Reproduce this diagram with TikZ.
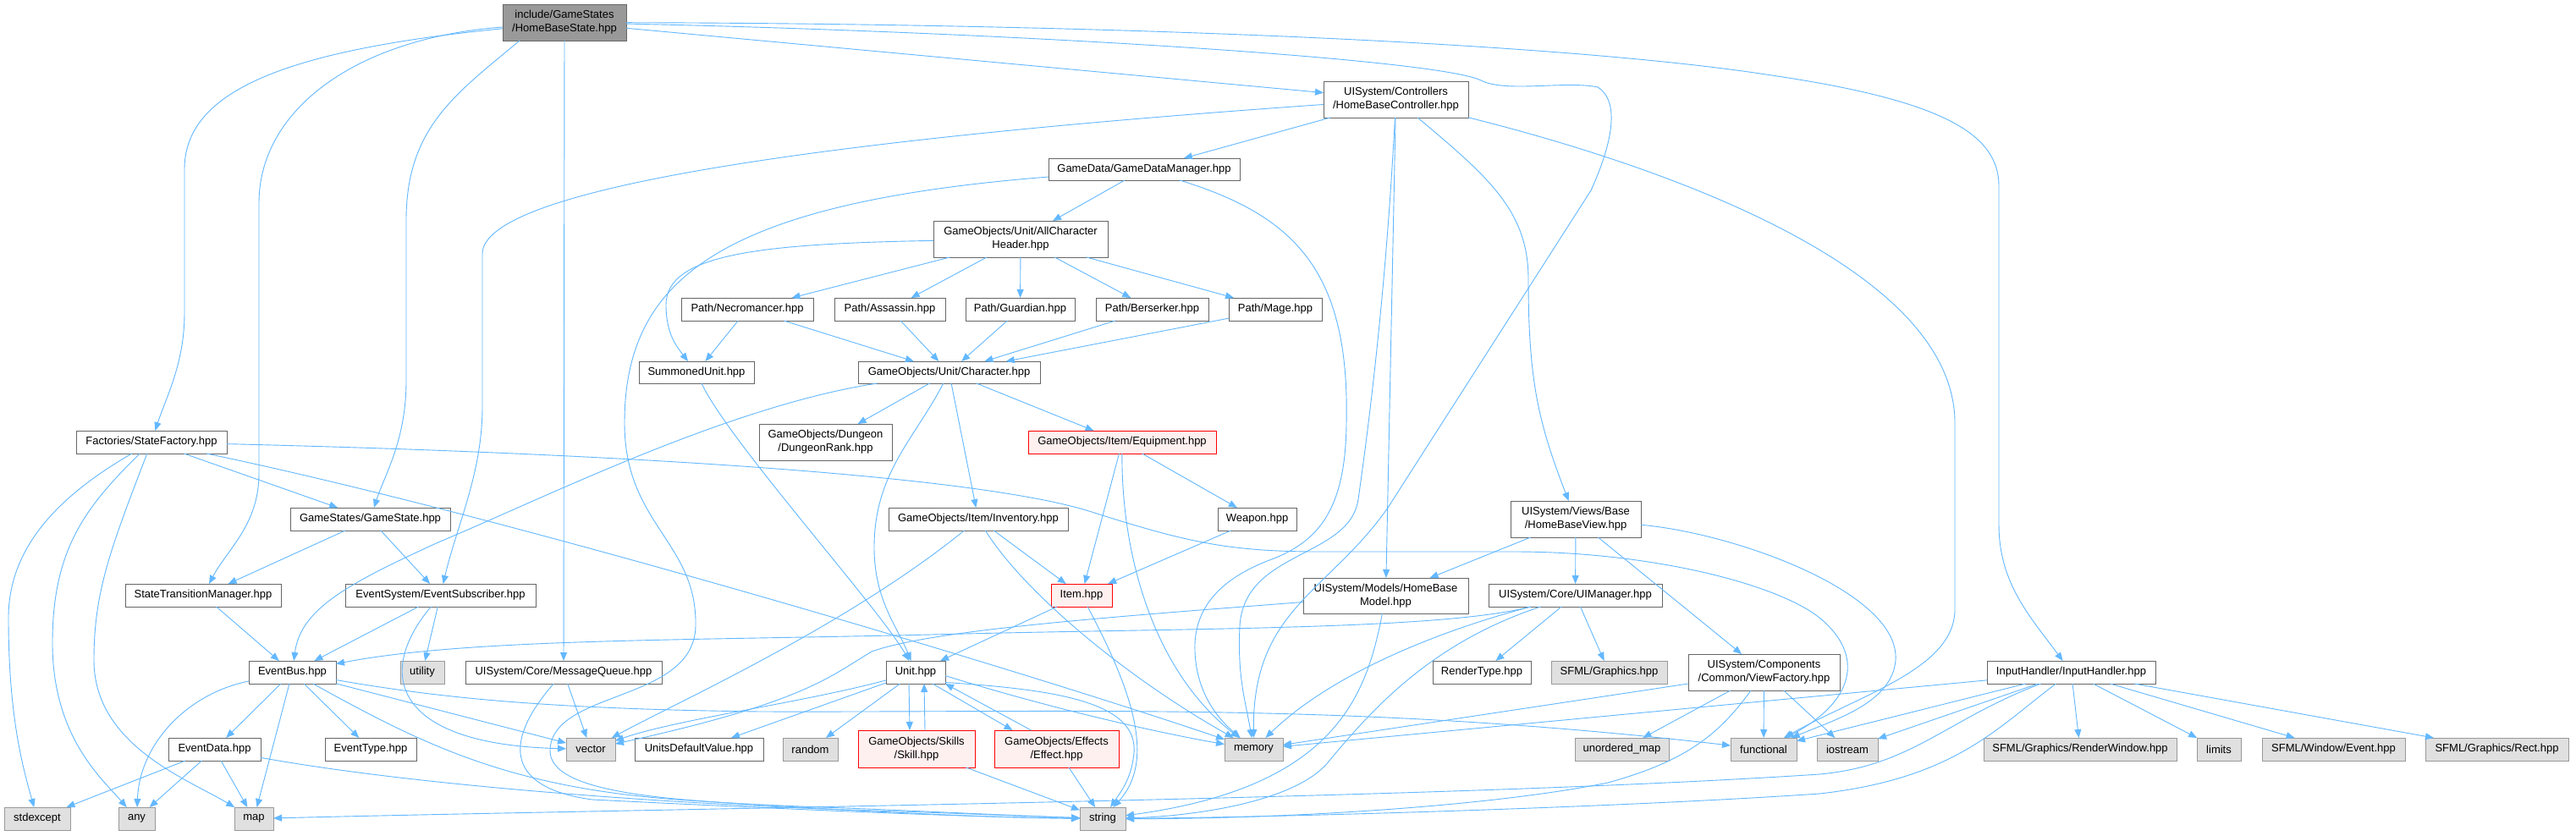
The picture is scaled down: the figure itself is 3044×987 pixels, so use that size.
\documentclass[tikz,border=0pt]{standalone}
\usepackage{fontspec}
\setmainfont{Liberation Sans}
\usetikzlibrary{arrows.meta}
\definecolor{edgec}{HTML}{63B8FF}
\definecolor{sysfill}{HTML}{E0E0E0}
\definecolor{sysdraw}{HTML}{999999}
\definecolor{plaindraw}{HTML}{666666}
\definecolor{rootfill}{HTML}{999999}
\definecolor{redfill}{HTML}{FFF0F0}
\newcommand\mkbox[7]{\node[#2, minimum width={(#5-#3)*0.5pt}, minimum height={(#6-#4)*0.5pt}] (#1) at ({(#3+#5)/2},{(#4+#6)/2}) {#7};}
\begin{document}
\begin{tikzpicture}[x=0.5pt,y=-0.5pt,
  basebox/.style={draw, line width=0.5pt, inner sep=0pt, outer sep=0pt, align=center, font=\fontsize{6.5}{8}\selectfont, text=black},
  plainbox/.style={basebox, draw=plaindraw, fill=white},
  sysbox/.style={basebox, draw=sysdraw, fill=sysfill},
  redbox/.style={basebox, draw=red, fill=redfill},
  rootbox/.style={basebox, draw=plaindraw, fill=rootfill},
  dep/.style={draw=edgec, line width=0.45pt, -{Triangle[length=5pt,width=4pt]}}]
\useasboundingbox (0,0) rectangle (3044,987);
\fill[white] (0,0) rectangle (3044,987);

\mkbox{hbs}{rootbox}{594}{5}{740}{48}{include/GameStates\\/HomeBaseState.hpp}
\mkbox{hbc}{plainbox}{1564}{96}{1735}{139}{UISystem/Controllers\\/HomeBaseController.hpp}
\mkbox{gdm}{plainbox}{1239}{187}{1465}{213}{GameData/GameDataManager.hpp}
\mkbox{ach}{plainbox}{1103}{261}{1309}{304}{GameObjects/Unit/AllCharacter\\Header.hpp}
\mkbox{nec}{plainbox}{805}{352}{961}{379}{Path/Necromancer.hpp}
\mkbox{ass}{plainbox}{986}{352}{1117}{379}{Path/Assassin.hpp}
\mkbox{gua}{plainbox}{1141}{352}{1270}{379}{Path/Guardian.hpp}
\mkbox{ber}{plainbox}{1295}{352}{1428}{379}{Path/Berserker.hpp}
\mkbox{mag}{plainbox}{1452}{352}{1562}{379}{Path/Mage.hpp}
\mkbox{sum}{plainbox}{755}{427}{891}{453}{SummonedUnit.hpp}
\mkbox{chr}{plainbox}{1014}{427}{1229}{453}{GameObjects/Unit/Character.hpp}
\mkbox{sf}{plainbox}{90}{509}{268}{536}{Factories/StateFactory.hpp}
\mkbox{dr}{plainbox}{897}{501}{1054}{544}{GameObjects/Dungeon\\/DungeonRank.hpp}
\mkbox{eq}{redbox}{1215}{509}{1437}{536}{GameObjects/Item/Equipment.hpp}
\mkbox{gs}{plainbox}{343}{600}{532}{627}{GameStates/GameState.hpp}
\mkbox{inv}{plainbox}{1050}{600}{1262}{627}{GameObjects/Item/Inventory.hpp}
\mkbox{wpn}{plainbox}{1439}{600}{1532}{627}{Weapon.hpp}
\mkbox{hbv}{plainbox}{1785}{592}{1939}{635}{UISystem/Views/Base\\/HomeBaseView.hpp}
\mkbox{stm}{plainbox}{148}{690}{332}{717}{StateTransitionManager.hpp}
\mkbox{es}{plainbox}{408}{690}{633}{717}{EventSystem/EventSubscriber.hpp}
\mkbox{item}{redbox}{1242}{690}{1314}{717}{Item.hpp}
\mkbox{hbm}{plainbox}{1540}{683}{1735}{725}{UISystem/Models/HomeBase\\Model.hpp}
\mkbox{uim}{plainbox}{1759}{690}{1964}{717}{UISystem/Core/UIManager.hpp}
\mkbox{eb}{plainbox}{294}{781}{397}{808}{EventBus.hpp}
\mkbox{util}{sysbox}{473}{781}{525}{808}{utility}
\mkbox{mq}{plainbox}{550}{781}{782}{808}{UISystem/Core/MessageQueue.hpp}
\mkbox{unit}{plainbox}{1047}{781}{1117}{808}{Unit.hpp}
\mkbox{rt}{plainbox}{1693}{781}{1809}{808}{RenderType.hpp}
\mkbox{sfg}{sysbox}{1833}{781}{1970}{808}{SFML/Graphics.hpp}
\mkbox{vf}{plainbox}{1995}{773}{2174}{816}{UISystem/Components\\/Common/ViewFactory.hpp}
\mkbox{ih}{plainbox}{2348}{781}{2547}{808}{InputHandler/InputHandler.hpp}
\mkbox{ed}{plainbox}{199}{872}{308}{899}{EventData.hpp}
\mkbox{et}{plainbox}{384}{872}{492}{899}{EventType.hpp}
\mkbox{vec}{sysbox}{669}{872}{727}{899}{vector}
\mkbox{udv}{plainbox}{750}{872}{902}{899}{UnitsDefaultValue.hpp}
\mkbox{rnd}{sysbox}{925}{872}{990}{899}{random}
\mkbox{skill}{redbox}{1014}{863}{1152}{907}{GameObjects/Skills\\/Skill.hpp}
\mkbox{eff}{redbox}{1175}{863}{1322}{907}{GameObjects/Effects\\/Effect.hpp}
\mkbox{mem}{sysbox}{1447}{872}{1516}{899}{memory}
\mkbox{umap}{sysbox}{1861}{872}{1972}{899}{unordered\_map}
\mkbox{func}{sysbox}{2045}{872}{2123}{899}{functional}
\mkbox{ios}{sysbox}{2147}{872}{2219}{899}{iostream}
\mkbox{rw}{sysbox}{2344}{872}{2572}{899}{SFML/Graphics/RenderWindow.hpp}
\mkbox{lim}{sysbox}{2596}{872}{2648}{899}{limits}
\mkbox{wev}{sysbox}{2673}{872}{2842}{899}{SFML/Window/Event.hpp}
\mkbox{rect}{sysbox}{2866}{872}{3035}{899}{SFML/Graphics/Rect.hpp}
\mkbox{stdx}{sysbox}{5}{954}{83}{981}{stdexcept}
\mkbox{any}{sysbox}{140}{954}{183}{981}{any}
\mkbox{map}{sysbox}{277}{954}{323}{981}{map}
\mkbox{str}{sysbox}{1276}{954}{1330}{981}{string}

% HomeBaseState
\draw[dep] (hbs) .. controls (330,60) and (218,110) .. (218,200) -- (218,370) .. controls (218,430) and (196,470) .. (sf);
\draw[dep] (hbs) .. controls (420,45) and (306,130) .. (306,240) -- (306,560) .. controls (306,620) and (268,650) .. (stm);
\draw[dep] ([xshift=10pt]hbs.south west) .. controls (540,110) and (480,150) .. (480,260) -- (480,450) .. controls (480,520) and (455,560) .. (gs);
\draw[dep] (hbs) -- (mq);
\draw[dep] (hbs) -- (hbc);
\draw[dep] (hbs) .. controls (1200,38) and (1700,70) .. (1750,95) .. controls (1780,110) and (1850,95) .. (1888,103) .. controls (1915,120) and (1905,170) .. (1880,225) -- (1640,600) .. controls (1570,700) and (1480,720) .. (mem);
\draw[dep] (hbs) .. controls (1300,28) and (1850,50) .. (2100,90) .. controls (2300,120) and (2362,160) .. (2362,220) -- (2362,620) .. controls (2362,690) and (2400,730) .. (ih);

% HomeBaseController
\draw[dep] (hbc) -- (gdm);
\draw[dep] (hbc) .. controls (900,170) and (570,230) .. (570,300) -- (570,480) .. controls (570,560) and (540,620) .. (es);
\draw[dep] (hbc) .. controls (1640,300) and (1625,450) .. (1605,590) .. controls (1595,660) and (1470,650) .. (1465,740) .. controls (1462,800) and (1472,830) .. (mem);
\draw[dep] (hbc) -- (hbm);
\draw[dep] (hbc) .. controls (1760,210) and (1806,250) .. (1806,330) .. controls (1806,450) and (1818,500) .. (hbv);
\draw[dep] (hbc) .. controls (1900,180) and (2310,300) .. (2310,500) -- (2310,720) .. controls (2310,790) and (2200,820) .. (func);

% GameDataManager
\draw[dep] (gdm) -- (ach);
\draw[dep] (gdm) .. controls (850,240) and (738,330) .. (738,500) .. controls (738,620) and (824,640) .. (822,740) .. controls (820,830) and (655,815) .. (650,885) .. controls (646,940) and (800,948) .. (1000,955) .. controls (1100,959) and (1200,964) .. (str);
\draw[dep] (gdm) .. controls (1530,255) and (1595,320) .. (1591,500) .. controls (1590,600) and (1560,640) .. (1500,662) .. controls (1440,685) and (1410,720) .. (1412,770) .. controls (1414,820) and (1440,850) .. (mem);

% AllCharacterHeader and paths
\draw[dep] (ach) -- (nec);
\draw[dep] (ach) -- (ass);
\draw[dep] (ach) -- (gua);
\draw[dep] (ach) -- (ber);
\draw[dep] (ach) -- (mag);
\draw[dep] (ach) .. controls (900,288) and (787,300) .. (787,360) .. controls (787,395) and (800,410) .. (sum);
\draw[dep] (nec) -- (sum);
\draw[dep] (nec) -- (chr);
\draw[dep] (ass) -- (chr);
\draw[dep] (gua) -- (chr);
\draw[dep] (ber) -- (chr);
\draw[dep] (mag) -- (chr);
\draw[dep] (sum) .. controls (860,520) and (1040,720) .. (unit);

% Character
\draw[dep] (chr) .. controls (1080,520) and (1032,560) .. (1033,650) .. controls (1034,710) and (1060,740) .. (unit);
\draw[dep] (chr) -- (dr);
\draw[dep] (chr) -- (eq);
\draw[dep] (chr) -- (inv);
\draw[dep] (chr) .. controls (860,480) and (640,590) .. (520,640) .. controls (410,690) and (355,720) .. (eb);

% Items
\draw[dep] (eq) -- (item);
\draw[dep] (eq) .. controls (1325,650) and (1360,790) .. (mem);
\draw[dep] (eq) -- (wpn);
\draw[dep] (inv) -- (item);
\draw[dep] (inv) .. controls (1210,700) and (1330,800) .. (mem);
\draw[dep] (inv) .. controls (1000,740) and (800,830) .. (vec);
\draw[dep] (wpn) -- (item);
\draw[dep] (item) -- (unit);
\draw[dep] (item) .. controls (1340,820) and (1365,900) .. (str);

% Unit
\draw[dep] ([xshift=-4pt]unit.south) -- ([xshift=-4pt]skill.north);
\draw[dep] ([xshift=5pt]skill.north) -- ([xshift=5pt]unit.south);
\draw[dep] ([xshift=10pt]unit.south) -- ([xshift=-26pt]eff.north);
\draw[dep] ([xshift=-15pt]eff.north) -- (unit.south east);
\draw[dep] ([yshift=-2pt]unit.east) .. controls (1250,840) and (1380,868) .. (mem);
\draw[dep] ([yshift=-6pt]unit.east) .. controls (1250,815) and (1345,830) .. (1340,890) .. controls (1337,920) and (1325,935) .. (str);
\draw[dep] (unit) .. controls (950,830) and (800,850) .. (vec);
\draw[dep] (unit) -- (udv);
\draw[dep] (unit) -- (rnd);
\draw[dep] (skill) -- (str);
\draw[dep] (eff) -- (str);

% States
\draw[dep] (gs) -- (stm);
\draw[dep] (gs) -- (es);
\draw[dep] (sf) -- (gs);
\draw[dep] (sf) .. controls (80,580) and (10,640) .. (10,730) .. controls (10,850) and (28,910) .. (stdx);
\draw[dep] (sf) .. controls (100,600) and (62,650) .. (62,760) .. controls (62,870) and (120,920) .. (any);
\draw[dep] (sf) .. controls (130,650) and (111,700) .. (111,780) .. controls (111,880) and (220,920) .. (map);
\draw[dep] (sf) .. controls (600,610) and (1200,790) .. (mem);
\draw[dep] (sf) .. controls (700,535) and (1150,560) .. (1290,605) .. controls (1400,640) and (1450,652) .. (1560,652) -- (1790,652) .. controls (1950,652) and (2100,690) .. (2150,730) .. controls (2205,775) and (2190,830) .. (func);
\draw[dep] (stm) -- (eb);
\draw[dep] (es) -- (eb);
\draw[dep] (es) -- (util);
\draw[dep] (es) .. controls (440,800) and (470,880) .. (vec);

% EventBus
\draw[dep] (eb) -- (ed);
\draw[dep] (eb) -- (et);
\draw[dep] (eb) .. controls (220,820) and (165,880) .. (any);
\draw[dep] (eb) -- (map);
\draw[dep] (eb) -- (vec);
\draw[dep] (eb) .. controls (500,880) and (600,930) .. (800,945) .. controls (1000,958) and (1150,966) .. (str);
\draw[dep] (eb) .. controls (520,825) and (650,838) .. (900,841) .. controls (1300,842) and (1600,830) .. (func);
\draw[dep] (ed) -- (stdx);
\draw[dep] (ed) -- (any);
\draw[dep] (ed) -- (map);
\draw[dep] (ed) .. controls (500,930) and (800,950) .. (1000,957) .. controls (1100,960) and (1200,964) .. (str);
\draw[dep] (mq) -- (vec);
\draw[dep] (mq) .. controls (600,870) and (590,930) .. (700,945) .. controls (900,955) and (1150,966) .. (str);

% UI
\draw[dep] (hbm) .. controls (1615,820) and (1580,930) .. (str);
\draw[dep] (hbm) .. controls (1300,730) and (1100,745) .. (1030,770) .. controls (980,800) and (950,830) .. (vec);
\draw[dep] (uim) .. controls (1700,745) and (1400,742) .. (1100,750) .. controls (800,757) and (550,755) .. (eb);
\draw[dep] (uim) -- (rt);
\draw[dep] (uim) -- (sfg);
\draw[dep] (uim) .. controls (1720,740) and (1580,790) .. (mem);
\draw[dep] (uim) .. controls (1690,760) and (1620,840) .. (1570,900) .. controls (1530,950) and (1400,965) .. (str);
\draw[dep] (hbv) -- (hbm);
\draw[dep] (hbv) -- (uim);
\draw[dep] (hbv) -- (vf);
\draw[dep] (hbv) .. controls (2050,630) and (2245,700) .. (2240,780) .. controls (2236,830) and (2170,850) .. (func);
\draw[dep] (vf) -- (mem);
\draw[dep] (vf) -- (umap);
\draw[dep] (vf) -- (func);
\draw[dep] (vf) -- (ios);
\draw[dep] (vf) .. controls (2030,870) and (1990,900) .. (1900,925) .. controls (1750,955) and (1500,968) .. (str);

% InputHandler
\draw[dep] (ih) -- (func);
\draw[dep] (ih) -- (ios);
\draw[dep] (ih) -- (rw);
\draw[dep] (ih) -- (lim);
\draw[dep] (ih) -- (wev);
\draw[dep] (ih) -- (rect);
\draw[dep] (ih) -- (mem);
\draw[dep] (ih) .. controls (2300,850) and (2260,905) .. (2150,915) .. controls (1700,945) and (800,955) .. (map);
\draw[dep] (ih) .. controls (2360,860) and (2310,920) .. (2150,938) .. controls (1900,955) and (1500,966) .. (str);
\end{tikzpicture}
\end{document}
